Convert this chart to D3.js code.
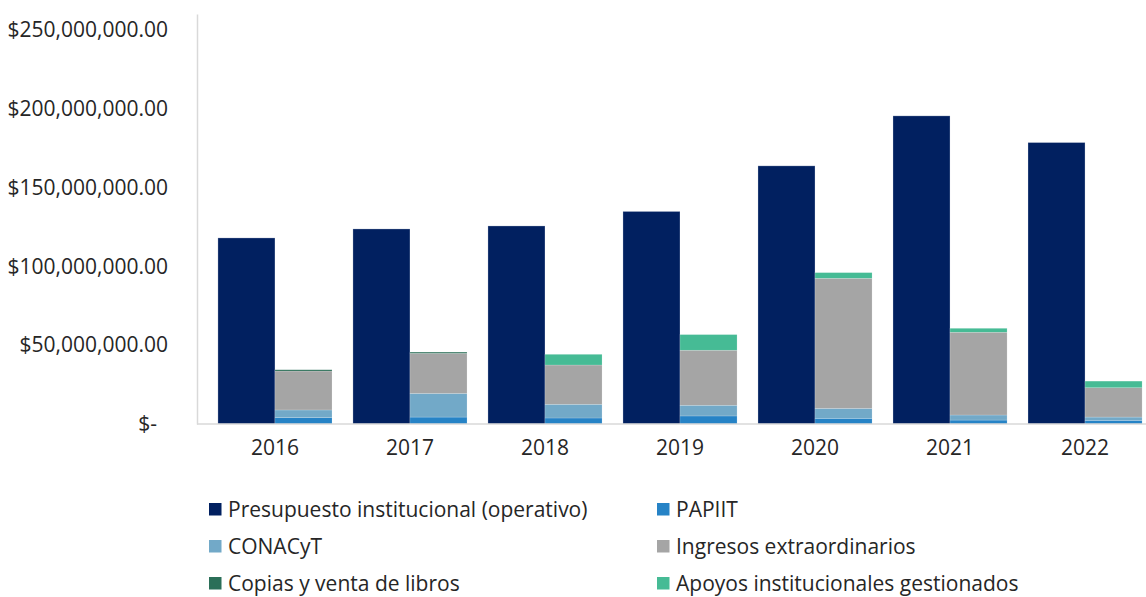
<!DOCTYPE html>
<html>
<head>
<meta charset="utf-8">
<script src="https://cdn.jsdelivr.net/npm/d3@7"></script>
<style>
  html, body { margin: 0; padding: 0; background: #ffffff; }
  svg { display: block; font-family: "Open Sans", "Noto Sans", sans-serif; }
</style>
</head>
<body>
<svg id="chart" width="1146" height="597"></svg>
<script>
// ---- data (values in pesos) ----
const years = ["2016", "2017", "2018", "2019", "2020", "2021", "2022"];
const presupuesto = [118.0e6, 123.7e6, 125.6e6, 134.8e6, 163.7e6, 195.4e6, 178.5e6];
const papiit      = [4.0e6, 4.4e6, 3.8e6, 5.1e6, 3.6e6, 2.5e6, 2.3e6];
const conacyt     = [4.9e6, 15.0e6, 8.7e6, 6.8e6, 6.3e6, 3.2e6, 2.1e6];
const ingresos    = [24.7e6, 25.4e6, 24.9e6, 34.9e6, 82.5e6, 52.5e6, 18.6e6];
const copias      = [0.8e6, 0.8e6, 0, 0, 0, 0, 0];
const apoyos      = [0, 0, 6.8e6, 9.9e6, 3.6e6, 2.5e6, 4.2e6];
const yTicks = [0, 50e6, 100e6, 150e6, 200e6, 250e6];

const seriesNames = ["Presupuesto institucional (operativo)", "PAPIIT", "CONACyT",
  "Ingresos extraordinarios", "Copias y venta de libros", "Apoyos institucionales gestionados"];
const colors = ["#012060", "#2683c6", "#72a9c8", "#a5a5a5", "#2b6f58", "#46bb95"];

// ---- layout ----
const svg = d3.select("#chart");
const x0 = d3.scaleBand().domain(years).range([197, 1163]).padding(0.155);
const x1 = d3.scaleBand().domain(["main", "stack"]).range([0, x0.bandwidth()]);
const y = d3.scaleLinear().domain([0, 260e6]).range([424, 14]);

// y axis
const fmt = d3.format("$,.2f");
const yAxis = svg.append("g")
  .attr("transform", "translate(197,0)")
  .call(d3.axisLeft(y).tickValues(yTicks).tickSize(0).tickPadding(29)
    .tickFormat(d => d === 0 ? "$-  " : fmt(d)));
yAxis.select(".domain").attr("stroke", "#d9d9d9").attr("stroke-width", 1.5);
yAxis.selectAll("text").attr("font-size", 21).attr("fill", "#262626")
  .attr("font-family", "'Open Sans', sans-serif").style("white-space", "pre");

// stacked data
const stackKeys = ["papiit", "conacyt", "ingresos", "copias", "apoyos"];
const rows = years.map((yr, i) => ({
  year: yr, papiit: papiit[i], conacyt: conacyt[i], ingresos: ingresos[i],
  copias: copias[i], apoyos: apoyos[i]
}));
const stacked = d3.stack().keys(stackKeys)(rows);

// main bars
svg.append("g").selectAll("rect").data(years).join("rect")
  .attr("x", d => x0(d) + x1("main"))
  .attr("width", x1.bandwidth())
  .attr("y", (d, i) => y(presupuesto[i]))
  .attr("height", (d, i) => y(0) - y(presupuesto[i]))
  .attr("fill", colors[0])
  .attr("stroke", "rgba(255,255,255,0.35)").attr("stroke-width", 0.75);

// stacked bars
svg.append("g").selectAll("g").data(stacked).join("g")
  .attr("fill", (d, i) => colors[i + 1])
  .selectAll("rect").data(d => d).join("rect")
  .attr("x", d => x0(d.data.year) + x1("stack"))
  .attr("width", x1.bandwidth())
  .attr("y", d => y(d[1]))
  .attr("height", d => y(d[0]) - y(d[1]))
  .attr("stroke", "rgba(255,255,255,0.35)").attr("stroke-width", 0.5);

// baseline
svg.append("line")
  .attr("x1", 197).attr("x2", 1146)
  .attr("y1", y(0)).attr("y2", y(0))
  .attr("stroke", "#d9d9d9").attr("stroke-width", 1.5);

// x axis labels
const xAxis = svg.append("g")
  .attr("transform", `translate(0,${y(0)})`)
  .call(d3.axisBottom(x0).tickSize(0).tickPadding(16));
xAxis.select(".domain").remove();
xAxis.selectAll("text").attr("font-size", 21).attr("fill", "#262626")
  .attr("font-family", "'Open Sans', sans-serif");

// legend
const legend = svg.append("g");
const legendItems = seriesNames.map((n, i) => ({ name: n, color: colors[i], col: i % 2, row: Math.floor(i / 2) }));
const lg = legend.selectAll("g").data(legendItems).join("g")
  .attr("transform", d => `translate(${d.col === 0 ? 209 : 657},${503 + d.row * 37})`);
lg.append("rect").attr("width", 12.5).attr("height", 12.5).attr("fill", d => d.color);
lg.append("text").attr("x", 19).attr("y", 6.5).attr("dy", "0.35em")
  .attr("font-size", 21).attr("fill", "#262626")
  .text(d => d.name);
</script>
</body>
</html>
